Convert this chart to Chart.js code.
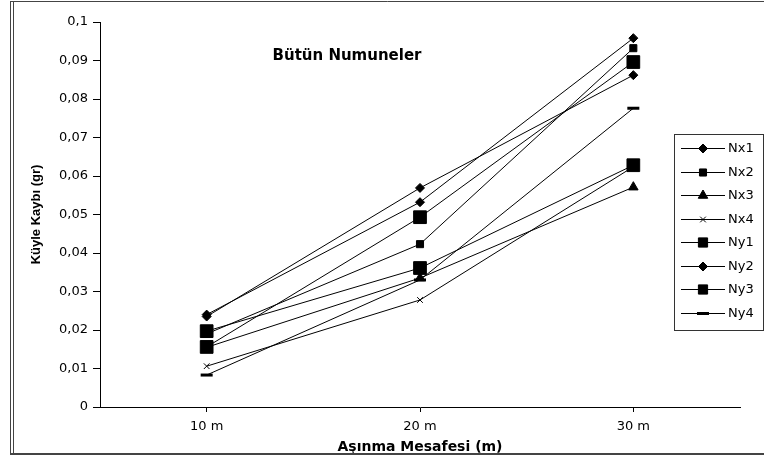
<!DOCTYPE html>
<html>
<head>
<meta charset="utf-8">
<script src="https://cdn.jsdelivr.net/npm/chart.js@4.4.1/dist/chart.umd.min.js"></script>
<style>
  html, body { margin: 0; padding: 0; background: #fff; }
</style>
</head>
<body>
<canvas id="chart" width="764" height="459"></canvas>
<script>
// values
const distances = ["10 m", "20 m", "30 m"];
const seriesNames = ["Nx1", "Nx2", "Nx3", "Nx4", "Ny1", "Ny2", "Ny3", "Ny4"];
const nx1 = [0.0235, 0.0569, 0.0862];
const nx2 = [0.0190, 0.0423, 0.0932];
const nx3 = [0.0155, 0.0335, 0.0571];
const nx4 = [0.0106, 0.0278, 0.0624];
const ny1 = [0.0156, 0.0493, 0.0896];
const ny2 = [0.0240, 0.0532, 0.0958];
const ny3 = [0.0197, 0.0361, 0.0628];
const ny4 = [0.0083, 0.0330, 0.0776];
const yTickLabels = ["0", "0,01", "0,02", "0,03", "0,04", "0,05", "0,06", "0,07", "0,08", "0,09", "0,1"];

const seriesValues = [nx1, nx2, nx3, nx4, ny1, ny2, ny3, ny4];
// marker look per series
const markerStyles = ["rectRot", "rect", "triangle", "crossRot", "rect", "rectRot", "rect", "line"];
const markerRadius = [4.5, 5, 5.5, 4, 9, 4.5, 9, 6];
const markerBorder = [1, 1, 1, 1, 1, 1, 1, 3];

const WIDE = "'DejaVu Sans', Verdana, sans-serif";
const ARIAL = "'Liberation Sans', Arial, sans-serif";

const frame = {
    id: "frame",
    afterDraw(chart) {
        const ctx = chart.ctx;
        ctx.save();
        ctx.strokeStyle = "#444";
        ctx.lineWidth = 1;
        ctx.beginPath();
        ctx.moveTo(10.5, 1.5); ctx.lineTo(764, 1.5);
        ctx.moveTo(10.5, 1); ctx.lineTo(10.5, 455);
        ctx.moveTo(13.5, 1); ctx.lineTo(13.5, 455);
        ctx.stroke();
        ctx.lineWidth = 2;
        ctx.beginPath();
        ctx.moveTo(10, 454); ctx.lineTo(764, 454);
        ctx.stroke();

        // title sits inside the plot, like the original
        ctx.fillStyle = "#000";
        ctx.font = "bold 15px " + WIDE;
        ctx.textAlign = "center";
        ctx.textBaseline = "middle";
        ctx.fillText("Bütün Numuneler", 347, 56);
        ctx.restore();
    }
};

const legendBox = {
    id: "legendBox",
    afterDraw(chart) {
        const ctx = chart.ctx;
        const x0 = 674, y0 = 134, w = 89, h = 196;
        ctx.save();
        ctx.fillStyle = "#fff";
        ctx.fillRect(x0, y0, w, h);
        ctx.strokeStyle = "#333";
        ctx.lineWidth = 1;
        ctx.strokeRect(x0 + 0.5, y0 + 0.5, w, h);
        chart.data.datasets.forEach((ds, i) => {
            const y = Math.round(148 + i * 23.5) + 0.5;
            ctx.strokeStyle = "#000";
            ctx.fillStyle = "#000";
            ctx.lineWidth = 1;
            ctx.beginPath();
            ctx.moveTo(681, y);
            ctx.lineTo(725, y);
            ctx.stroke();
            ctx.lineWidth = ds.pointBorderWidth;
            Chart.helpers.drawPoint(ctx, {
                pointStyle: ds.pointStyle,
                radius: Math.min(ds.pointRadius, 6.5),
                borderWidth: ds.pointBorderWidth,
                rotation: 0
            }, 703, y);
            ctx.font = "13px " + WIDE;
            ctx.textAlign = "left";
            ctx.textBaseline = "middle";
            ctx.fillText(ds.label, 728, y);
        });
        ctx.restore();
    }
};

const datasets = seriesNames.map((name, i) => ({
    label: name,
    data: seriesValues[i],
    borderColor: "#000",
    backgroundColor: "#000",
    borderWidth: 1,
    pointStyle: markerStyles[i],
    pointRadius: markerRadius[i],
    pointBorderWidth: markerBorder[i],
    pointBackgroundColor: "#000",
    pointBorderColor: "#000",
    tension: 0,
    fill: false
}));

new Chart(document.getElementById("chart"), {
    type: "line",
    data: {
        labels: distances,
        datasets: datasets
    },
    options: {
        responsive: false,
        animation: false,
        layout: {
            padding: { top: 22, right: 24, left: 0, bottom: 0 }
        },
        plugins: {
            legend: { display: false },
            tooltip: { enabled: false }
        },
        scales: {
            x: {
                offset: true,
                grid: { offset: false, drawOnChartArea: false, tickLength: 5, color: "#000" },
                border: { color: "#000", width: 1 },
                ticks: { color: "#000", font: { family: WIDE, size: 13 }, padding: 7, maxRotation: 0 },
                title: {
                    display: true,
                    text: "Aşınma Mesafesi (m)",
                    color: "#000",
                    font: { family: WIDE, size: 14, weight: "bold" },
                    padding: { top: 0, bottom: 3 }
                },
                afterFit(scale) { scale.height = 52; }
            },
            y: {
                min: 0,
                max: 0.1,
                grid: { drawOnChartArea: false, tickLength: 7, color: "#000" },
                border: { color: "#000", width: 1 },
                ticks: {
                    stepSize: 0.01,
                    color: "#000",
                    font: { family: WIDE, size: 13 },
                    padding: 5,
                    callback: (v, i) => yTickLabels[i]
                },
                title: {
                    display: true,
                    text: "Küyle Kaybı (gr)",
                    color: "#000",
                    font: { family: ARIAL, size: 13, weight: "bold" },
                    padding: { top: 29, bottom: 0 }
                },
                afterFit(scale) { scale.width = 100; }
            }
        }
    },
    plugins: [frame, legendBox]
});
</script>
</body>
</html>
